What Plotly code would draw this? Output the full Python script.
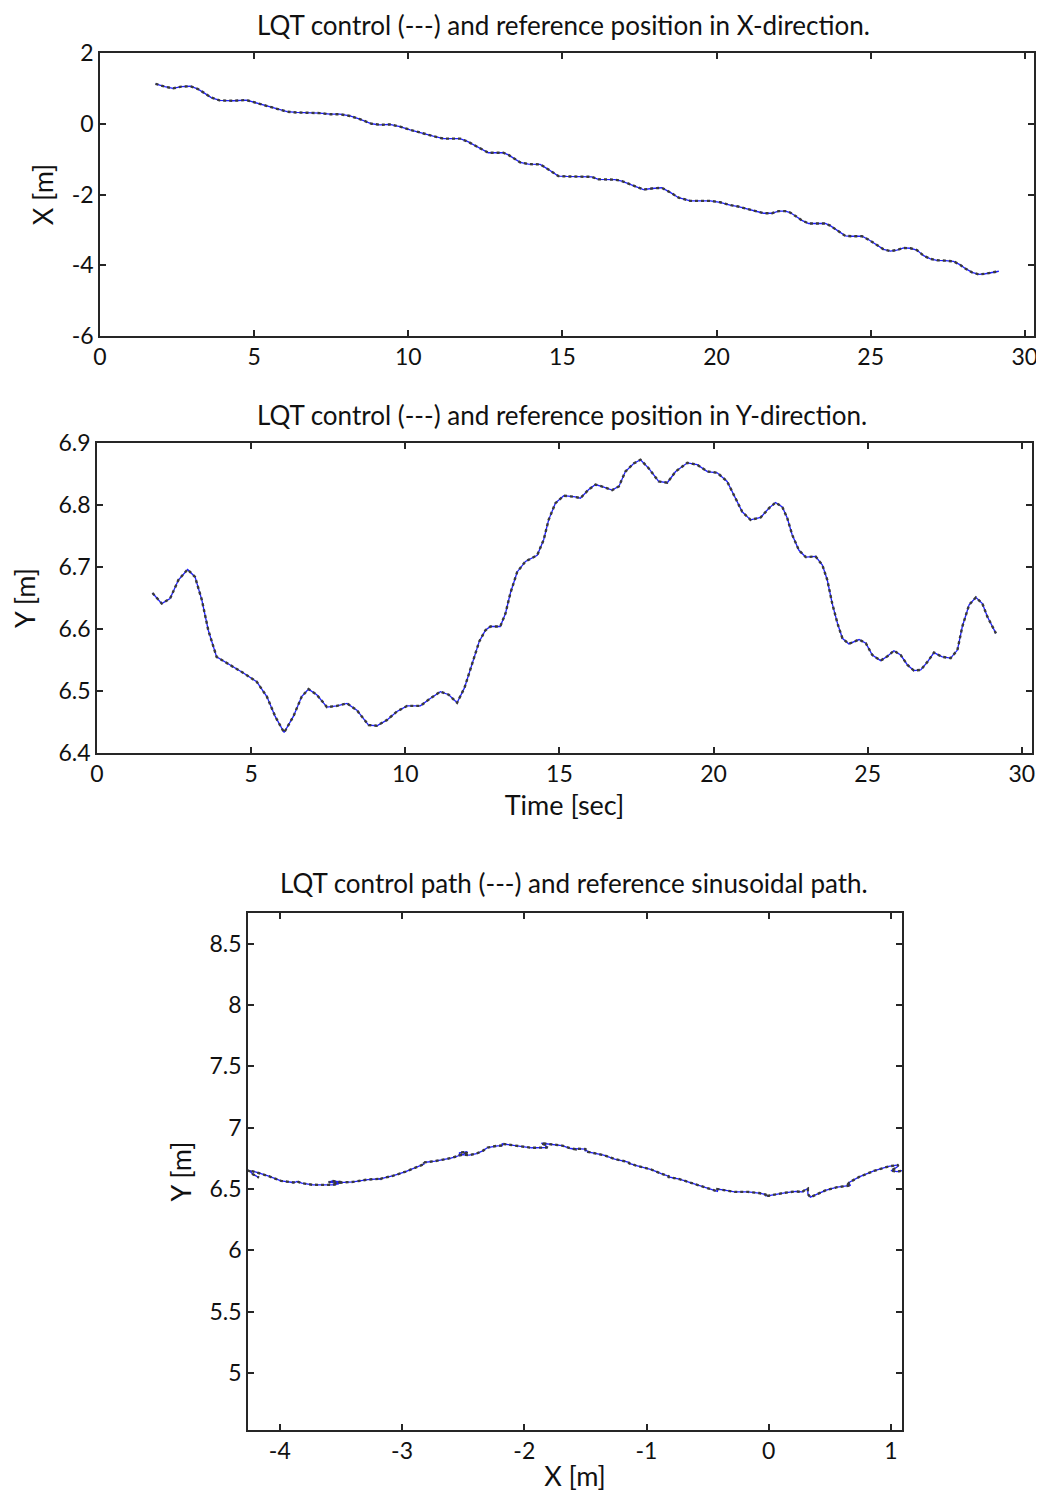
import plotly.graph_objects as go

# Common time samples [sec]
t = [1.80, 2.10, 2.37, 2.64, 2.94, 3.18, 3.40, 3.61, 3.88, 4.32, 4.75, 5.18, 5.51, 5.78, 6.07,
     6.37, 6.64, 6.86, 7.13, 7.46, 7.78, 8.11, 8.43, 8.81, 9.08, 9.40, 9.73, 10.06, 10.49, 10.81,
     11.14, 11.41, 11.68, 11.92, 12.17, 12.40, 12.60, 12.76, 13.08, 13.25, 13.41, 13.63, 13.90,
     14.28, 14.49, 14.65, 14.87, 15.14, 15.52, 15.68, 15.95, 16.17, 16.44, 16.71, 16.93, 17.14,
     17.41, 17.63, 17.90, 18.22, 18.50, 18.77, 19.15, 19.47, 19.80, 20.12, 20.44, 20.71, 20.93,
     21.20, 21.53, 21.80, 22.01, 22.23, 22.39, 22.55, 22.77, 22.99, 23.31, 23.53, 23.69, 23.85,
     24.02, 24.18, 24.39, 24.72, 24.94, 25.15, 25.42, 25.64, 25.85, 26.07, 26.29, 26.50, 26.72,
     26.94, 27.15, 27.42, 27.69, 27.91, 28.07, 28.29, 28.51, 28.72, 28.88, 29.16]

# Reference X position [m]
x_pos = [1.13, 1.05, 1.00, 1.05, 1.06, 0.98, 0.86, 0.74, 0.66, 0.65, 0.67, 0.56, 0.47, 0.40, 0.34,
         0.32, 0.32, 0.32, 0.30, 0.27, 0.27, 0.22, 0.13, 0.00, -0.03, -0.02, -0.08, -0.17, -0.28, -0.35,
         -0.42, -0.42, -0.42, -0.50, -0.62, -0.73, -0.82, -0.82, -0.82, -0.88, -0.96, -1.09, -1.14,
         -1.15, -1.26, -1.35, -1.48, -1.49, -1.50, -1.50, -1.50, -1.57, -1.58, -1.58, -1.62, -1.69,
         -1.80, -1.86, -1.83, -1.81, -1.94, -2.09, -2.18, -2.18, -2.18, -2.22, -2.30, -2.34, -2.39,
         -2.45, -2.53, -2.53, -2.47, -2.47, -2.51, -2.60, -2.73, -2.82, -2.82, -2.82, -2.88, -2.97,
         -3.07, -3.17, -3.18, -3.18, -3.28, -3.40, -3.55, -3.60, -3.57, -3.51, -3.52, -3.57, -3.73,
         -3.82, -3.86, -3.87, -3.89, -3.99, -4.09, -4.20, -4.26, -4.24, -4.22, -4.17]

# Reference Y position [m]
y_pos = [6.658, 6.641, 6.649, 6.679, 6.696, 6.684, 6.647, 6.598, 6.555, 6.542, 6.529, 6.515, 6.491,
         6.459, 6.433, 6.459, 6.491, 6.503, 6.494, 6.474, 6.476, 6.480, 6.469, 6.445, 6.444, 6.453,
         6.467, 6.476, 6.476, 6.488, 6.499, 6.494, 6.481, 6.505, 6.545, 6.580, 6.598, 6.604, 6.604,
         6.625, 6.658, 6.692, 6.709, 6.719, 6.744, 6.776, 6.803, 6.815, 6.813, 6.811, 6.825, 6.833,
         6.829, 6.824, 6.830, 6.854, 6.867, 6.873, 6.859, 6.838, 6.836, 6.854, 6.868, 6.865, 6.854,
         6.852, 6.838, 6.811, 6.789, 6.776, 6.780, 6.795, 6.804, 6.797, 6.779, 6.752, 6.727, 6.716,
         6.717, 6.703, 6.679, 6.641, 6.609, 6.585, 6.576, 6.583, 6.577, 6.558, 6.549, 6.556, 6.565,
         6.558, 6.542, 6.533, 6.534, 6.547, 6.562, 6.555, 6.553, 6.566, 6.604, 6.639, 6.651, 6.641,
         6.620, 6.593]

# LQT controlled positions (track the reference closely)
x_lqt = list(x_pos)
y_lqt = list(y_pos)

titles = ["LQT control (---) and reference position in X-direction.",
          "LQT control (---) and reference position in Y-direction.",
          "LQT control path (---) and reference sinusoidal path."]

time_ticks = [0, 5, 10, 15, 20, 25, 30]
x_ticks = [-6, -4, -2, 0, 2]
y_ticks = [6.4, 6.5, 6.6, 6.7, 6.8, 6.9]
path_x_ticks = [-4, -3, -2, -1, 0, 1]
path_y_ticks = [5, 5.5, 6, 6.5, 7, 7.5, 8, 8.5]

FONT = "Lato, 'Open Sans', sans-serif"
REF_COLOR = "#1f1fff"
LQT_COLOR = "#3a3a3a"
AX_COLOR = "#262626"
TXT = "#111111"

fig = go.Figure()

def add_pair(xr, yr, xl, yl, xa, ya):
    fig.add_trace(go.Scatter(x=xr, y=yr, mode="lines", xaxis=xa, yaxis=ya,
                             line=dict(color=REF_COLOR, width=1.3), showlegend=False))
    fig.add_trace(go.Scatter(x=xl, y=yl, mode="lines", xaxis=xa, yaxis=ya,
                             line=dict(color=LQT_COLOR, width=2.4, dash="3px,3px"), showlegend=False))

add_pair(t, x_pos, t, x_lqt, "x", "y")
add_pair(t, y_pos, t, y_lqt, "x2", "y2")
add_pair(x_pos, y_pos, x_lqt, y_lqt, "x3", "y3")

OFF = 8  # browser body margin
W, H = 1036, 1484

def dom_x(a, b):
    return [(a - OFF) / W, (b - OFF) / W]

def dom_y(top, bottom):
    return [1 - (bottom - OFF) / H, 1 - (top - OFF) / H]

def lbl(v):
    s = ("%g" % v)
    return s.replace("\u2212", "-")

axis_common = dict(showline=True, linecolor=AX_COLOR, linewidth=1.6, mirror="allticks",
                   ticks="inside", ticklen=6, tickwidth=1.6, tickcolor=AX_COLOR,
                   showgrid=False, zeroline=False, automargin=False,
                   tickfont=dict(family=FONT, size=23, color=TXT))
title_font = dict(family=FONT, size=27, color=TXT)

fig.update_layout(
    width=W, height=H, paper_bgcolor="white", plot_bgcolor="white",
    margin=dict(l=0, r=0, t=0, b=0, autoexpand=False),
    font=dict(family=FONT, color=TXT),
    xaxis=dict(domain=dom_x(100, 1034), anchor="y", range=[0, 30.3],
               tickvals=time_ticks, ticktext=[lbl(v) for v in time_ticks], **axis_common),
    yaxis=dict(domain=dom_y(53, 336), anchor="x", range=[-6, 2],
               tickvals=x_ticks, ticktext=[lbl(v) for v in x_ticks],
               title=dict(text="X [m]", font=title_font, standoff=10), **axis_common),
    xaxis2=dict(domain=dom_x(97, 1032), anchor="y2", range=[0, 30.33],
                tickvals=time_ticks, ticktext=[lbl(v) for v in time_ticks],
                title=dict(text="Time [sec]", font=title_font, standoff=10), **axis_common),
    yaxis2=dict(domain=dom_y(443, 753), anchor="x2", range=[6.4, 6.9],
                tickvals=y_ticks, ticktext=["%.1f" % v for v in y_ticks],
                title=dict(text="Y [m]", font=title_font, standoff=15), **axis_common),
    xaxis3=dict(domain=dom_x(248, 902), anchor="y3", range=[-4.26, 1.09],
                tickvals=path_x_ticks, ticktext=[lbl(v) for v in path_x_ticks],
                title=dict(text="X [m]", font=title_font, standoff=14), **axis_common),
    yaxis3=dict(domain=dom_y(913, 1430), anchor="x3", range=[4.535, 8.75],
                tickvals=path_y_ticks, ticktext=[lbl(v) for v in path_y_ticks],
                title=dict(text="Y [m]", font=title_font, standoff=10), **axis_common),
)

title_pos = [(563, 25), (562, 415), (574, 883)]
for txt, (cx, cy) in zip(titles, title_pos):
    fig.add_annotation(text=txt, x=(cx - OFF) / W, y=1 - (cy - OFF) / H, xref="paper", yref="paper",
                       showarrow=False, xanchor="center", yanchor="middle",
                       font=dict(family=FONT, size=26, color=TXT))

fig.write_html("out.html")
